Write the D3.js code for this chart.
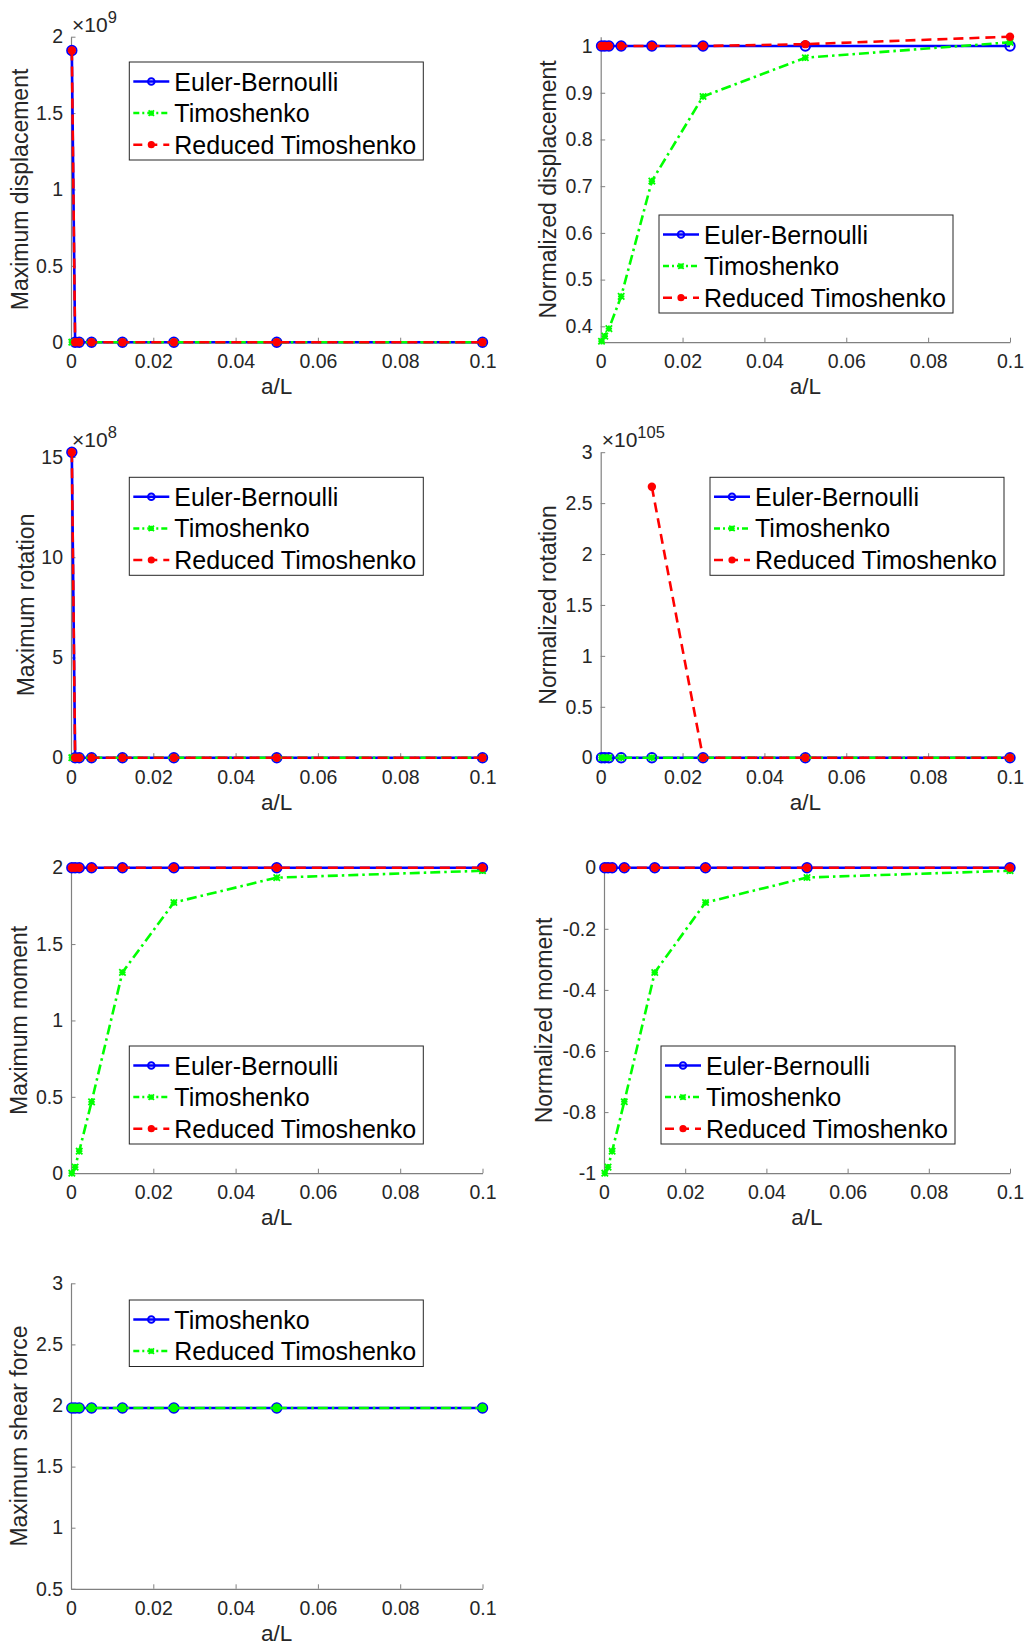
<!DOCTYPE html>
<html>
<head>
<meta charset="utf-8">
<script src="https://cdn.jsdelivr.net/npm/d3@7"></script>
<style>
  body { margin: 0; background: #fff; }
  svg { display: block; font-family: "Liberation Sans", Arial, sans-serif; }
</style>
</head>
<body>
<div id="chart"></div>
<script>
const width = 1028, height = 1647;

// a/L sample points
const aL = [0.0002, 0.001, 0.002, 0.005, 0.0125, 0.025, 0.05, 0.1];
const xTicks = [0, 0.02, 0.04, 0.06, 0.08, 0.1];
const xTickLabels = ["0", "0.02", "0.04", "0.06", "0.08", "0.1"];

// Maximum displacement (x1e9)
const dispEB = [1.91, 0, 0, 0, 0, 0, 0, 0];
const dispT  = [0, 0, 0, 0, 0, 0, 0, 0];
const dispRT = [1.91, 0, 0, 0, 0, 0, 0, 0];

// Normalized displacement
const ndispEB = [1, 1, 1, 1, 1, 1, 1, 1];
const ndispT  = [0.368, 0.379, 0.395, 0.464, 0.711, 0.892, 0.975, 1.008];
const ndispRT = [1, 1, 1, 1, 1, 1, 1.004, 1.02];

// Maximum rotation (x1e8)
const rotEB = [15.24, 0, 0, 0, 0, 0, 0, 0];
const rotT  = [0, 0, 0, 0, 0, 0, 0, 0];
const rotRT = [15.24, 0, 0, 0, 0, 0, 0, 0];

// Normalized rotation (x1e105)
const nrotEB = [0, 0, 0, 0, 0, 0, 0, 0];
const nrotT  = [0, 0, 0, 0, 0, 0, 0, 0];
const nrotRT = [null, null, null, null, 2.66, 0, 0, 0];

// Maximum moment
const momEB = [2, 2, 2, 2, 2, 2, 2, 2];
const momT  = [0, 0.04, 0.144, 0.467, 1.315, 1.772, 1.935, 1.98];
const momRT = [2, 2, 2, 2, 2, 2, 2, 2];

// Normalized moment
const nmomEB = [0, 0, 0, 0, 0, 0, 0, 0];
const nmomT  = [-1, -0.98, -0.928, -0.766, -0.343, -0.114, -0.032, -0.01];
const nmomRT = [0, 0, 0, 0, 0, 0, 0, 0];

// Maximum shear force
const shearT  = [1.98, 1.98, 1.98, 1.98, 1.98, 1.98, 1.98, 1.98];
const shearRT = [1.98, 1.98, 1.98, 1.98, 1.98, 1.98, 1.98, 1.98];

const styleEB = {color: "#0000ff", dash: null, marker: "circle"};
const styleT  = {color: "#00ff00", dash: "10,4,2.5,4", marker: "star"};
const styleRT = {color: "#ff0000", dash: "10,6", marker: "dot"};
const styleRTshear = {color: "#00ff00", dash: "10,4,2.5,4", marker: "gdot"};

const plotH = 305.5;

const panels = [
  {x0: 71, x1: 482.5, top: 36.7, dom: [0, 2], ticks: [0, 0.5, 1, 1.5, 2], label: "Maximum displacement", lx: 20, exp: "9",
   series: [["Euler-Bernoulli", dispEB, styleEB], ["Timoshenko", dispT, styleT], ["Reduced Timoshenko", dispRT, styleRT]],
   leg: [129.3, 62]},
  {x0: 600.7, x1: 1010, top: 36.7, dom: [0.366, 1.02], ticks: [0.4, 0.5, 0.6, 0.7, 0.8, 0.9, 1], label: "Normalized displacement", lx: 548,
   series: [["Euler-Bernoulli", ndispEB, styleEB], ["Timoshenko", ndispT, styleT], ["Reduced Timoshenko", ndispRT, styleRT]],
   leg: [659, 215]},
  {x0: 71, x1: 482.5, top: 452.2, dom: [0, 15.24], ticks: [0, 5, 10, 15], label: "Maximum rotation", lx: 26, exp: "8",
   series: [["Euler-Bernoulli", rotEB, styleEB], ["Timoshenko", rotT, styleT], ["Reduced Timoshenko", rotRT, styleRT]],
   leg: [129.3, 477.3]},
  {x0: 600.7, x1: 1010, top: 452.2, dom: [0, 3], ticks: [0, 0.5, 1, 1.5, 2, 2.5, 3], label: "Normalized rotation", lx: 548, exp: "105",
   series: [["Euler-Bernoulli", nrotEB, styleEB], ["Timoshenko", nrotT, styleT], ["Reduced Timoshenko", nrotRT, styleRT]],
   leg: [710, 477.3]},
  {x0: 71, x1: 482.5, top: 867.7, dom: [0, 2], ticks: [0, 0.5, 1, 1.5, 2], label: "Maximum moment", lx: 19,
   series: [["Euler-Bernoulli", momEB, styleEB], ["Timoshenko", momT, styleT], ["Reduced Timoshenko", momRT, styleRT]],
   leg: [129.3, 1046]},
  {x0: 604, x1: 1010, top: 867.7, dom: [-1, 0], ticks: [-1, -0.8, -0.6, -0.4, -0.2, 0], label: "Normalized moment", lx: 544,
   series: [["Euler-Bernoulli", nmomEB, styleEB], ["Timoshenko", nmomT, styleT], ["Reduced Timoshenko", nmomRT, styleRT]],
   leg: [661, 1046]},
  {x0: 71, x1: 482.5, top: 1283.3, dom: [0.5, 3], ticks: [0.5, 1, 1.5, 2, 2.5, 3], label: "Maximum shear force", lx: 19,
   series: [["Timoshenko", shearT, styleEB], ["Reduced Timoshenko", shearRT, styleRTshear]],
   leg: [129.3, 1300]}
];

const svg = d3.select("#chart").append("svg")
  .attr("width", width)
  .attr("height", height);

function drawMarker(g, type, cx, cy, color, small) {
  if (type === "circle") {
    g.append("circle").attr("cx", cx).attr("cy", cy).attr("r", small ? 3.3 : 4.7)
      .attr("fill", "none").attr("stroke", color).attr("stroke-width", 2);
  } else if (type === "dot") {
    g.append("circle").attr("cx", cx).attr("cy", cy).attr("r", small ? 3.6 : 4.2)
      .attr("fill", color);
  } else if (type === "gdot") {
    g.append("circle").attr("cx", cx).attr("cy", cy).attr("r", 4.4)
      .attr("fill", color);
  } else {
    const s = small ? 2.7 : 3.2;
    g.append("path")
      .attr("d", `M${cx - s},${cy - s}L${cx + s},${cy + s}M${cx - s},${cy + s}L${cx + s},${cy - s}M${cx},${cy - s}L${cx},${cy + s}M${cx - s},${cy}L${cx + s},${cy}`)
      .attr("stroke", color).attr("stroke-width", 1.8);
  }
}

panels.forEach(p => {
  const x = d3.scaleLinear().domain([0, 0.1]).range([p.x0, p.x1]);
  const y = d3.scaleLinear().domain(p.dom).range([p.top + plotH, p.top]);
  const g = svg.append("g");

  // axes
  const xAxis = d3.axisBottom(x).tickValues(xTicks)
    .tickFormat((d, i) => xTickLabels[i])
    .tickSizeInner(-4.5).tickSizeOuter(0).tickPadding(12);
  const yAxis = d3.axisLeft(y).tickValues(p.ticks)
    .tickFormat(d => String(+d.toFixed(2)))
    .tickSizeInner(-4.5).tickSizeOuter(0).tickPadding(8);

  [g.append("g").attr("transform", `translate(0,${p.top + plotH})`).call(xAxis),
   g.append("g").attr("transform", `translate(${p.x0},0)`).call(yAxis)].forEach(a => {
    a.select(".domain").attr("stroke", "#808080").attr("stroke-width", 1.2);
    a.selectAll(".tick line").attr("stroke", "#808080");
    a.selectAll(".tick text").attr("fill", "#262626").attr("font-size", 19.5)
      .attr("font-family", "Liberation Sans, Arial, sans-serif");
  });

  g.append("text")
    .attr("x", (p.x0 + p.x1) / 2).attr("y", p.top + plotH + 52)
    .attr("text-anchor", "middle").attr("font-size", 22.5).attr("fill", "#262626")
    .text("a/L");

  g.append("text")
    .attr("transform", `translate(${p.lx + 8},${p.top + plotH / 2}) rotate(-90)`)
    .attr("text-anchor", "middle").attr("font-size", 23).attr("fill", "#262626")
    .text(p.label);

  if (p.exp) {
    const t = g.append("text").attr("x", p.x0 + 1).attr("y", p.top - 5)
      .attr("font-size", 21).attr("fill", "#262626");
    t.append("tspan").text("×10");
    t.append("tspan").attr("font-size", 16.5).attr("dy", -9).text(p.exp);
  }

  // series
  p.series.forEach(([name, vals, st]) => {
    const pts = aL.map((a, i) => [a, vals[i]]);
    const line = d3.line().defined(d => d[1] != null).x(d => x(d[0])).y(d => y(d[1]));
    g.append("path").datum(pts)
      .attr("d", line)
      .attr("fill", "none")
      .attr("stroke", st.color)
      .attr("stroke-width", 2.6)
      .attr("stroke-dasharray", st.dash);
    pts.filter(d => d[1] != null).forEach(d => drawMarker(g, st.marker, x(d[0]), y(d[1]), st.color, false));
  });

  // legend
  const [lx, ly] = p.leg;
  const n = p.series.length;
  const lh = n === 3 ? 98 : 66.5;
  const lg = svg.append("g");
  lg.append("rect").attr("x", lx).attr("y", ly).attr("width", 294).attr("height", lh)
    .attr("fill", "#fff").attr("stroke", "#262626").attr("stroke-width", 1);
  p.series.forEach(([name, vals, st], i) => {
    const cy = ly + 19.5 + i * 31.6;
    lg.append("line").attr("x1", lx + 4).attr("x2", lx + 40).attr("y1", cy).attr("y2", cy)
      .attr("stroke", st.color).attr("stroke-width", 2.5)
      .attr("stroke-dasharray", st.dash ? (st.marker === "dot" ? "9,6" : "6,3,2,3") : null);
    drawMarker(lg, st.marker === "gdot" ? "star" : st.marker, lx + 22, cy, st.color, true);
    lg.append("text").attr("x", lx + 45).attr("y", cy + 9)
      .attr("font-size", 25).attr("fill", "#000").text(name);
  });
});
</script>
</body>
</html>
